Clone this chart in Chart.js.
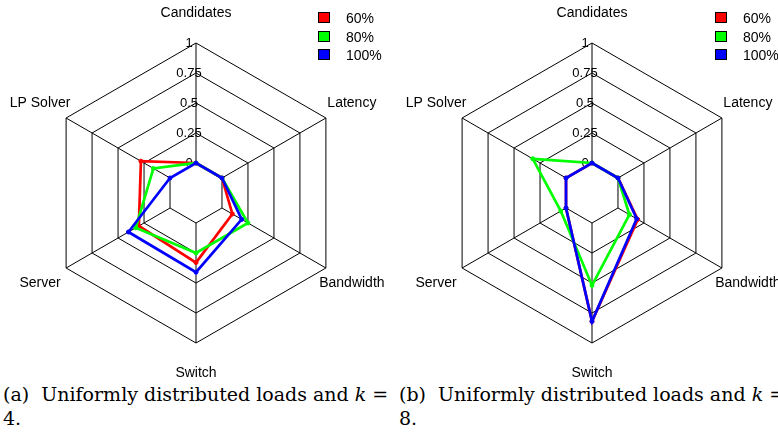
<!DOCTYPE html>
<html><head><meta charset="utf-8">
<script src="https://cdn.jsdelivr.net/npm/chart.js@4"></script>
<style>
html,body{margin:0;padding:0;background:#fff;width:778px;height:432px;overflow:hidden;position:relative;}
canvas{position:absolute;top:0;}
#c1{left:0}
#c2{left:390px}
.legend{position:absolute;top:0;font:14px "Liberation Sans",Arial,sans-serif;color:#000;}
.legend .row{position:absolute;left:0;white-space:nowrap;height:18px;line-height:18px;}
.legend .sw{position:absolute;left:0;top:3px;width:10px;height:9px;border:1px solid #000;}
.legend .t{position:absolute;left:28px;top:0;}
.cap{position:absolute;top:382px;font-family:"DejaVu Serif",serif;font-size:19px;white-space:nowrap;color:#000;line-height:24px;}
</style>
</head><body>
<canvas id="c1" width="390" height="380"></canvas>
<canvas id="c2" width="388" height="380"></canvas>
<div class="legend" id="lg1" style="left:318px"></div>
<div class="legend" id="lg2" style="left:715px"></div>
<div class="cap" style="left:3px">(a)&nbsp; Uniformly distributed loads and <i>k</i> =<br>4.</div>
<div class="cap" style="left:399px">(b)&nbsp; Uniformly distributed loads and <i>k</i> =<br>8.</div>
<script>
const categories = ['Candidates', 'Latency', 'Bandwidth', 'Switch', 'Server', 'LP Solver'];
const seriesNames = ['60%', '80%', '100%'];
const seriesColors = ['#ff0000', '#00ff00', '#0000ff'];
const tickValues = [0, 0.25, 0.5, 0.75, 1];
const tickLabels = ['0', '0.25', '0.5', '0.75', '1'];

// (a) k = 4
const k4_60  = [0, 0, 0.10, 0.33, 0.30, 0.28];
const k4_80  = [0, 0, 0.25, 0.25, 0.33, 0.16];
const k4_100 = [0, 0, 0.19, 0.41, 0.40, 0];
// (b) k = 8
const k8_60  = [0, 0, 0.19, 0.82, 0, 0];
const k8_80  = [0, 0, 0.11, 0.52, 0.05, 0.32];
const k8_100 = [0, 0, 0.18, 0.82, 0, 0];

const radarDecor = {
  id: 'radarDecor',
  beforeDatasetsDraw(chart) {
    const s = chart.scales.r, ctx = chart.ctx;
    ctx.save();
    ctx.strokeStyle = '#000';
    ctx.lineWidth = 1;
    for (let i = 0; i < categories.length; i++) {
      const a = s.getPointPositionForValue(i, 0);
      const b = s.getPointPositionForValue(i, 1);
      ctx.beginPath();
      ctx.moveTo(a.x, a.y);
      ctx.lineTo(b.x, b.y);
      ctx.stroke();
    }
    ctx.font = '13px "Liberation Sans", Arial, sans-serif';
    ctx.fillStyle = '#000';
    ctx.textAlign = 'center';
    ctx.textBaseline = 'middle';
    tickValues.forEach((v, k) => {
      const p = s.getPointPositionForValue(0, v);
      ctx.fillText(tickLabels[k], p.x - 7, p.y);
    });
    ctx.restore();
  },
  afterDraw(chart) {
    const s = chart.scales.r, ctx = chart.ctx;
    ctx.save();
    ctx.font = '14px "Liberation Sans", Arial, sans-serif';
    ctx.fillStyle = '#000';
    ctx.textAlign = 'center';
    ctx.textBaseline = 'middle';
    categories.forEach((c, i) => {
      const p = s.getPointPositionForValue(i, 1.25);
      ctx.fillText(c, p.x, p.y);
    });
    ctx.restore();
  }
};

function makeChart(id, series, padLeft, padRight) {
  new Chart(document.getElementById(id), {
    type: 'radar',
    data: {
      labels: categories,
      datasets: series.map((d, k) => ({
        label: seriesNames[k],
        data: d,
        borderColor: seriesColors[k],
        backgroundColor: 'rgba(0,0,0,0)',
        pointBackgroundColor: seriesColors[k],
        pointBorderColor: seriesColors[k],
        pointRadius: 2,
        pointBorderWidth: 1,
        borderWidth: 2.7,
        fill: false,
        tension: 0,
        order: 3 - k
      }))
    },
    options: {
      responsive: false,
      maintainAspectRatio: false,
      animation: false,
      events: [],
      layout: { padding: { left: padLeft, right: padRight, top: 43, bottom: 37 } },
      plugins: { legend: { display: false }, tooltip: { enabled: false } },
      scales: {
        r: {
          min: -0.25,
          max: 1,
          ticks: { display: false, stepSize: 0.25 },
          grid: {
            color: (c) => (c.tick && c.tick.value < 0) ? 'rgba(0,0,0,0)' : '#000',
            lineWidth: 1
          },
          angleLines: { display: false },
          pointLabels: { display: false }
        }
      }
    },
    plugins: [radarDecor]
  });
}

makeChart('c1', [k4_60, k4_80, k4_100], 46, 44);
makeChart('c2', [k8_60, k8_80, k8_100], 52, 36);

function makeLegend(id) {
  const el = document.getElementById(id);
  seriesNames.forEach((n, k) => {
    const row = document.createElement('div');
    row.className = 'row';
    row.style.top = (9 + k * 18.5) + 'px';
    row.innerHTML = '<span class="sw" style="background:' + seriesColors[k] + '"></span><span class="t">' + n + '</span>';
    el.appendChild(row);
  });
}
makeLegend('lg1');
makeLegend('lg2');
</script>
</body></html>
